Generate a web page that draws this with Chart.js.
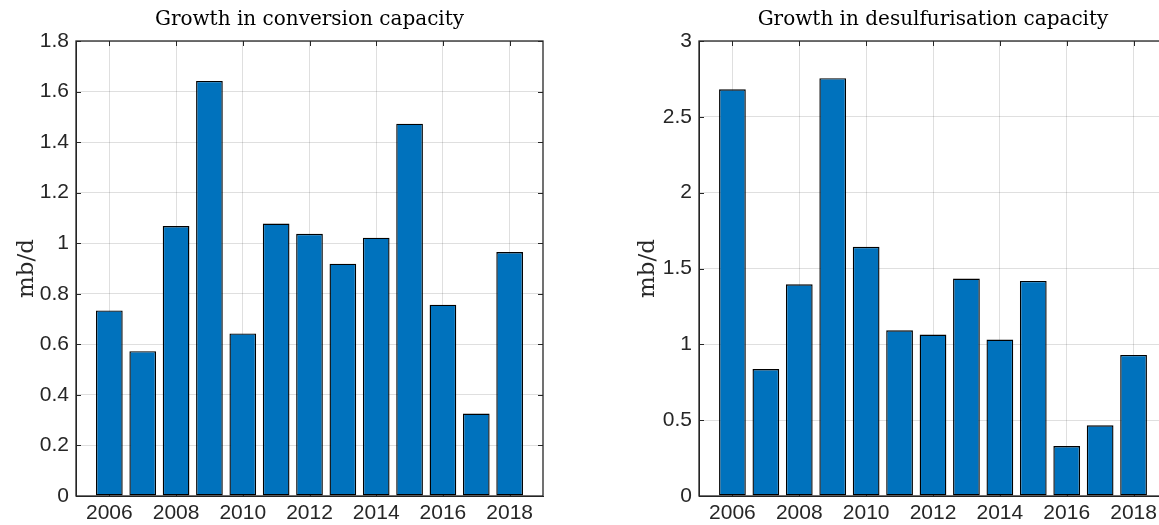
<!DOCTYPE html>
<html>
<head>
<meta charset="utf-8">
<script src="https://cdn.jsdelivr.net/npm/chart.js@4.4.1/dist/chart.umd.min.js"></script>
<style>
  html, body { margin: 0; padding: 0; background: #fff; overflow: hidden; width: 1159px; height: 525px; }
  .panel { position: absolute; top: 0; height: 525px; }
</style>
</head>
<body>
<div class="panel" style="left:0;width:580px"><canvas id="conversion"></canvas></div>
<div class="panel" style="left:600px;width:600px"><canvas id="desulf"></canvas></div>
<script>
const years = [2006, 2007, 2008, 2009, 2010, 2011, 2012, 2013, 2014, 2015, 2016, 2017, 2018];
const tickYears = [2006, 2008, 2010, 2012, 2014, 2016, 2018];
const conversion = [0.734, 0.573, 1.068, 1.642, 0.643, 1.078, 1.037, 0.919, 1.022, 1.473, 0.757, 0.326, 0.965];
const desulfurisation = [2.682, 0.837, 1.396, 2.755, 1.643, 1.093, 1.065, 1.434, 1.032, 1.418, 0.329, 0.466, 0.930];

const axisColor = '#262626';
const tickFont = { family: '"Liberation Sans", Arial, sans-serif', size: 21 };
const serif = '"DejaVu Serif", "Liberation Serif", serif';

// inward tick marks under the bars, box on top (matlab look)
const matlabAxes = {
    id: 'matlabAxes',
    beforeDatasetsDraw(chart) {
        const { ctx, chartArea: a, scales: { x, y } } = chart;
        ctx.save();
        ctx.strokeStyle = axisColor;
        ctx.lineWidth = 1;
        ctx.beginPath();
        x.ticks.forEach(t => {
            const px = Math.round(x.getPixelForValue(t.value)) + 0.5;
            ctx.moveTo(px, a.bottom); ctx.lineTo(px, a.bottom - 5);
            ctx.moveTo(px, a.top); ctx.lineTo(px, a.top + 5);
        });
        y.ticks.forEach(t => {
            const py = Math.round(y.getPixelForValue(t.value)) + 0.5;
            ctx.moveTo(a.left, py); ctx.lineTo(a.left + 5, py);
            ctx.moveTo(a.right, py); ctx.lineTo(a.right - 5, py);
        });
        ctx.stroke();
        ctx.restore();
    },
    afterDatasetsDraw(chart) {
        const { ctx, chartArea: a } = chart;
        ctx.save();
        ctx.strokeStyle = axisColor;
        ctx.lineWidth = 1.3;
        ctx.strokeRect(a.left, a.top, a.right - a.left, a.bottom - a.top);
        ctx.restore();
    }
};

function makeChart(id, title, values, yMax, yStep, yAxisWidth, yTitlePad, rightPad) {
    return new Chart(document.getElementById(id), {
        type: 'bar',
        data: {
            datasets: [{
                data: years.map((yr, i) => ({ x: yr, y: values[i] })),
                backgroundColor: '#0072BD',
                borderColor: '#000000',
                borderWidth: 1.4,
                borderSkipped: false,
                categoryPercentage: 1,
                barPercentage: 0.8
            }]
        },
        options: {
            responsive: true,
            maintainAspectRatio: false,
            animation: false,
            layout: { padding: { left: 0, right: rightPad, top: 0, bottom: 0 } },
            plugins: {
                legend: { display: false },
                tooltip: { enabled: false },
                title: {
                    display: true,
                    text: title,
                    fullSize: false,
                    color: '#000',
                    font: { family: serif, size: 20, weight: 'normal', lineHeight: 1.2 },
                    padding: { top: 8, bottom: 9 }
                }
            },
            scales: {
                x: {
                    type: 'linear',
                    offset: false,
                    min: 2005,
                    max: 2019,
                    afterBuildTicks: s => { s.ticks = tickYears.map(v => ({ value: v })); },
                    afterFit: s => { s.height = 29; },
                    ticks: {
                        color: axisColor,
                        font: tickFont,
                        padding: 5,
                        maxRotation: 0,
                        autoSkip: false,
                        callback: v => String(v)
                    },
                    grid: { color: 'rgba(38,38,38,0.15)', drawTicks: false, offset: false },
                    border: { color: axisColor }
                },
                y: {
                    min: 0,
                    max: yMax,
                    afterFit: s => { s.width = yAxisWidth; },
                    ticks: {
                        stepSize: yStep,
                        color: axisColor,
                        font: tickFont,
                        padding: 7,
                        callback: v => String(Number(v.toFixed(2)))
                    },
                    grid: { color: 'rgba(38,38,38,0.15)', drawTicks: false },
                    border: { color: axisColor },
                    title: {
                        display: true,
                        text: 'mb/d',
                        color: axisColor,
                        font: { family: serif, size: 23, lineHeight: 1.2 },
                        padding: { top: yTitlePad, bottom: 0 }
                    }
                }
            }
        },
        plugins: [matlabAxes]
    });
}

makeChart('conversion', 'Growth in conversion capacity', conversion, 1.8, 0.2, 76, 13, 37);
makeChart('desulf', 'Growth in desulfurisation capacity', desulfurisation, 3, 0.5, 99, 34, 33);
</script>
</body>
</html>
